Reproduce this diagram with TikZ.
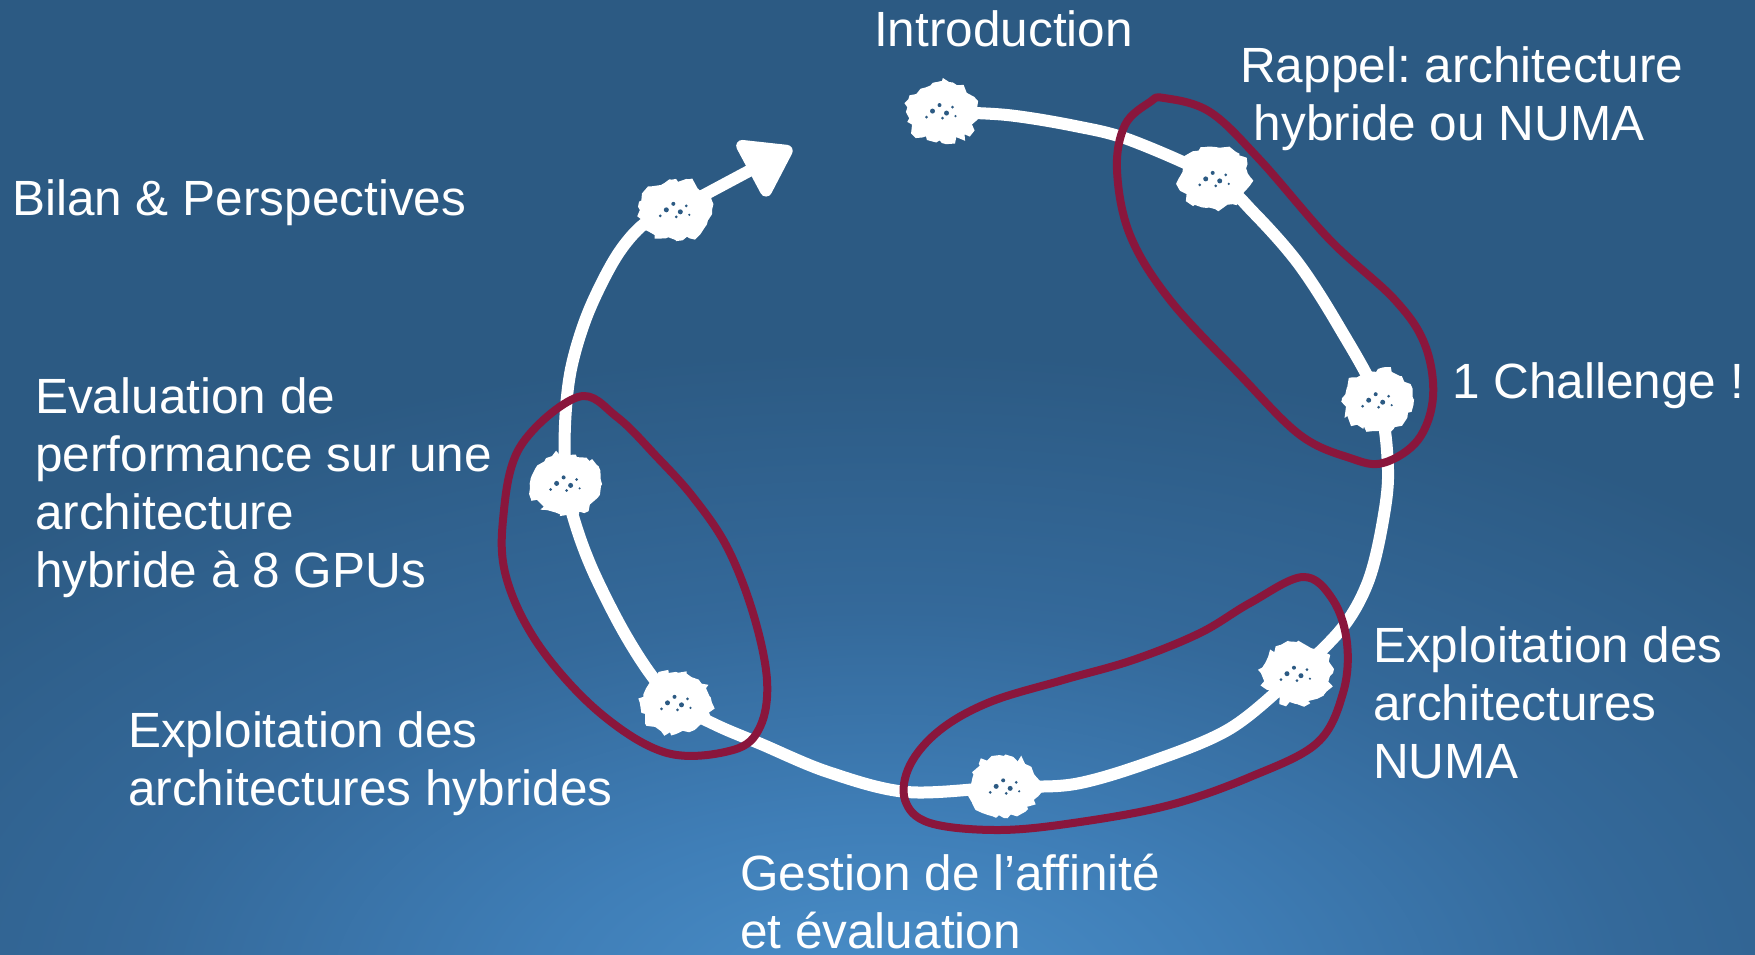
\documentclass[tikz,border=0pt]{standalone}
\usepackage{fontspec}
\setmainfont{Liberation Sans}
\usetikzlibrary{decorations.pathmorphing,arrows.meta,shapes.geometric}

\definecolor{bgdark}{RGB}{44,90,131}
\definecolor{glowA}{RGB}{74,143,201}
\definecolor{glowB}{RGB}{63,126,183}
\definecolor{glowC}{RGB}{52,105,154}
\definecolor{loopred}{RGB}{138,22,60}

% radial glow: the rim of the shaded path sits at 25bp
\pgfdeclareradialshading{slideglow}{\pgfpoint{0bp}{0bp}}{%
  color(0bp)=(glowA); color(7bp)=(glowB); color(15bp)=(glowC);
  color(25bp)=(bgdark); color(50bp)=(bgdark)}

\frenchspacing
\begin{document}
\begin{tikzpicture}[x=1pt,y=-1pt,
  label/.style={text=white, font=\fontsize{49.5}{57.7}\selectfont,
    inner sep=0pt, anchor=base west, align=left},
  track/.style={draw=white, line width=12pt, line cap=round, line join=round},
  ring/.style={draw=loopred, line width=8pt, line cap=round, line join=round},
  blob/.style={ellipse, fill=white, minimum width=72pt, minimum height=62pt,
    inner sep=0pt, decorate,
    decoration={random steps, segment length=5pt, amplitude=3.5pt},
    path picture={
      \fill[bgdark] ([shift={(-9,0)}]path picture bounding box.center) circle (2.5);
      \fill[bgdark] ([shift={(-2,-6)}]path picture bounding box.center) circle (2);
      \fill[bgdark] ([shift={(5,2)}]path picture bounding box.center) circle (2.5);
      \fill[bgdark] ([shift={(11,-4)}]path picture bounding box.center) circle (1.5);
      \fill[bgdark] ([shift={(-15,6)}]path picture bounding box.center) circle (1.5);
      \fill[bgdark] ([shift={(1,7)}]path picture bounding box.center) circle (1.5);
      \fill[bgdark] ([shift={(14,5)}]path picture bounding box.center) circle (1.2);
    }}
]
\pgfmathsetseed{7}
\useasboundingbox (0,0) rectangle (1755,955);

% background with a soft glow at the bottom
\fill[bgdark] (0,0) rectangle (1755,955);
\begin{scope}
  \clip (0,0) rectangle (1755,955);
  \shade[shading=slideglow] (880,1000) ellipse [x radius=1250, y radius=650];
\end{scope}

% stations of the journey
\coordinate (intro) at (942,112);
\coordinate (rappel) at (1215,178);
\coordinate (challenge) at (1378,400);
\coordinate (numa) at (1297,673);
\coordinate (gestion) at (1004,787);
\coordinate (hybrides) at (676,703);
\coordinate (evaluation) at (566,484);
\coordinate (bilan) at (676,210);
\coordinate (arrowtip) at (792,148);

% the white track joining the stations
\draw[track] plot[smooth, tension=0.55] coordinates {
  (intro) (1007,115) (1075,126) (1130,140) (rappel)
  (1254,213) (1298,263) (1338,325) (challenge)
  (1388,470) (1382,526) (1368,582) (1343,627) (numa)
  (1231,728) (1153,761) (1075,784) (gestion)
  (907,792) (828,772) (761,744) (716,725) (hybrides)
  (649,672) (621,627) (593,571) (576,526) (evaluation)
  (565,425) (571,369) (588,313) (616,257) (644,224) (bilan)};
\draw[track, -{Triangle[length=54pt, width=70pt, round]}] (bilan) -- (arrowtip);

% station marks
\node[blob] (b-intro) at (intro) {};
\node[blob] (b-rappel) at (rappel) {};
\node[blob] (b-challenge) at (challenge) {};
\node[blob] (b-numa) at (numa) {};
\node[blob] (b-gestion) at (gestion) {};
\node[blob] (b-hybrides) at (hybrides) {};
\node[blob] (b-evaluation) at (evaluation) {};
\node[blob] (b-bilan) at (bilan) {};

% hand-drawn groupings
\draw[ring] plot[smooth cycle, tension=0.6] coordinates {
  (1164,98) (1210,112) (1260,160) (1330,240) (1395,300) (1425,345)
  (1433,397) (1418,440) (1383,463) (1350,458) (1300,435) (1240,375)
  (1170,300) (1130,235) (1117,170) (1125,125) (1150,102)};
\draw[ring] plot[smooth cycle, tension=0.6] coordinates {
  (578,397) (520,447) (503,520) (507,580) (540,647) (600,713)
  (667,753) (733,750) (760,727) (767,680) (753,613) (727,547)
  (693,497) (657,457) (617,417)};
\draw[ring] plot[smooth cycle, tension=0.6] coordinates {
  (1303,577) (1250,603) (1200,633) (1133,660) (1063,680) (990,702)
  (940,730) (910,765) (905,800) (930,823) (1000,830) (1080,822)
  (1170,805) (1250,777) (1317,743) (1343,693) (1347,643) (1333,600)};

% labels (each anchored at the baseline of its last line)
\node[label] (t-intro) at (874,47) {Introduction};
\node[label] (t-rappel) at (1240,140) {Rappel: architecture\\\hspace*{13.6pt}hybride ou NUMA};
\node[label] (t-challenge) at (1452,398) {1 Challenge !};
\node[label] (t-numa) at (1373,778) {Exploitation des\\architectures\\NUMA};
\node[label] (t-gestion) at (740,948) {Gestion de l’affinité\\et évaluation};
\node[label] (t-hybrides) at (128,805) {Exploitation des\\architectures hybrides};
\node[label] (t-evaluation) at (35,587) {Evaluation de\\performance sur une\\architecture\\hybride à 8 GPUs};
\node[label] (t-bilan) at (12,215) {Bilan \& Perspectives};
\end{tikzpicture}
\end{document}
